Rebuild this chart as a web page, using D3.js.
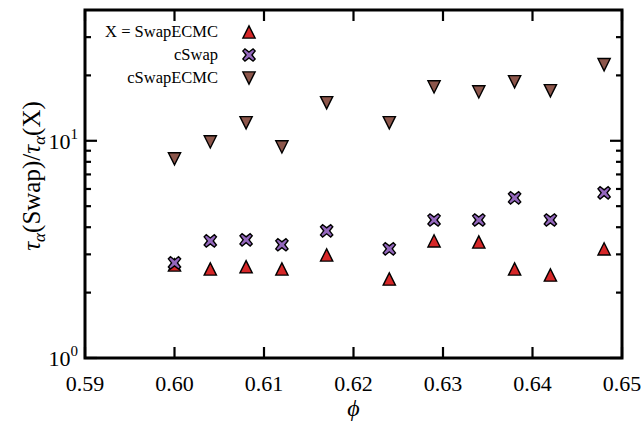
<!DOCTYPE html>
<html><head><meta charset="utf-8">
<script src="https://cdn.jsdelivr.net/npm/d3@7"></script>
<style>
body{margin:0;background:#fff;}
svg{display:block;font-family:"Liberation Serif","DejaVu Serif",serif;}
</style></head>
<body><svg id="c" width="642" height="422"></svg>
<script>
const phi = [0.600,0.604,0.608,0.612,0.617,0.624,0.629,0.634,0.638,0.642,0.648];
const swapECMC = [2.68,2.57,2.63,2.57,2.98,2.31,3.46,3.42,2.57,2.41,3.18];
const cSwap = [2.74,3.46,3.50,3.32,3.85,3.18,4.32,4.32,5.46,4.32,5.76];
const cSwapECMC = [8.26,9.89,12.1,9.38,14.96,12.1,17.7,16.8,18.7,17.0,22.4];
const xTicks = [0.59,0.60,0.61,0.62,0.63,0.64,0.65];
const xTickLabels = ["0.59","0.60","0.61","0.62","0.63","0.64","0.65"];
const yMajor = [1,10];
const yMinor = [2,3,4,5,6,7,8,9,20,30];
const seriesNames = ["X = SwapECMC","cSwap","cSwapECMC"];
const colors = ["#d62728","#9467bd","#8c564b"];

const L=85,R=622,T=10,B=358;
const svg=d3.select("#c");
const x=d3.scaleLinear().domain([0.59,0.65]).range([L,R]);
const y=d3.scaleLog().domain([1,40]).range([B,T]);

const triUp={draw(ctx,size){const r=Math.sqrt(size)/2;ctx.moveTo(0,-r);ctx.lineTo(r,r);ctx.lineTo(-r,r);ctx.closePath();}};
const triDown={draw(ctx,size){const r=Math.sqrt(size)/2;ctx.moveTo(0,r);ctx.lineTo(r,-r);ctx.lineTo(-r,-r);ctx.closePath();}};
const xMark={draw(ctx,size){const r=Math.sqrt(size)/2;const w=r*0.34;
  const pts=[[0,-w*Math.SQRT2],[r-w,-r],[r,-r+w],[w*Math.SQRT2,0],[r,r-w],[r-w,r],[0,w*Math.SQRT2],[-r+w,r],[-r,r-w],[-w*Math.SQRT2,0],[-r,-r+w],[-r+w,-r]];
  ctx.moveTo(pts[0][0],pts[0][1]);for(let i=1;i<pts.length;i++)ctx.lineTo(pts[i][0],pts[i][1]);ctx.closePath();}};
const shapes=[triUp,xMark,triDown];
const sizes=[150,150,150];
const data=[swapECMC,cSwap,cSwapECMC];

const g=svg.append("g");
const tickW=2.2;
xTicks.forEach(v=>{
  g.append("line").attr("x1",x(v)).attr("x2",x(v)).attr("y1",B).attr("y2",B-11).attr("stroke","#000").attr("stroke-width",tickW);
  g.append("line").attr("x1",x(v)).attr("x2",x(v)).attr("y1",T).attr("y2",T+11).attr("stroke","#000").attr("stroke-width",tickW);
});
yMajor.forEach(v=>{
  g.append("line").attr("x1",L).attr("x2",L+12).attr("y1",y(v)).attr("y2",y(v)).attr("stroke","#000").attr("stroke-width",tickW);
  g.append("line").attr("x1",R).attr("x2",R-12).attr("y1",y(v)).attr("y2",y(v)).attr("stroke","#000").attr("stroke-width",tickW);
});
yMinor.forEach(v=>{
  g.append("line").attr("x1",L).attr("x2",L+6).attr("y1",y(v)).attr("y2",y(v)).attr("stroke","#000").attr("stroke-width",tickW);
  g.append("line").attr("x1",R).attr("x2",R-6).attr("y1",y(v)).attr("y2",y(v)).attr("stroke","#000").attr("stroke-width",tickW);
});
svg.append("rect").attr("x",L).attr("y",T).attr("width",R-L).attr("height",B-T).attr("fill","none").attr("stroke","#000").attr("stroke-width",3);

xTicks.forEach((v,i)=>{
  svg.append("text").attr("x",x(v)).attr("y",391).attr("text-anchor","middle").attr("font-size",22).text(xTickLabels[i]);
});
yMajor.forEach(v=>{
  const t=svg.append("text").attr("x",78).attr("y",y(v)+8).attr("text-anchor","end").attr("font-size",22);
  t.append("tspan").text("10");
  t.append("tspan").attr("dy",-10).attr("font-size",15).text(Math.round(Math.log10(v)));
});

svg.append("text").attr("x",(L+R)/2).attr("y",416).attr("text-anchor","middle").attr("font-size",24).attr("font-style","italic").text("ϕ");
const yl=svg.append("text").attr("transform",`translate(40,176) rotate(-90)`).attr("text-anchor","middle").attr("font-size",25);
yl.append("tspan").attr("font-style","italic").text("τ");
yl.append("tspan").attr("font-style","italic").attr("font-size",17).attr("dy",5).text("α");
yl.append("tspan").attr("dy",-5).text("(Swap)/");
yl.append("tspan").attr("font-style","italic").text("τ");
yl.append("tspan").attr("font-style","italic").attr("font-size",17).attr("dy",5).text("α");
yl.append("tspan").attr("dy",-5).text("(X)");

data.forEach((arr,si)=>{
  svg.append("g").selectAll("path").data(arr).join("path")
    .attr("transform",(d,i)=>`translate(${x(phi[i])},${y(d)})`)
    .attr("d",d3.symbol().type(shapes[si]).size(sizes[si]))
    .attr("fill",colors[si]).attr("stroke","#000").attr("stroke-width",1.4);
});

const ly=[32,55,78];
seriesNames.forEach((n,i)=>{
  svg.append("text").attr("x",218).attr("y",ly[i]+5).attr("text-anchor","end").attr("font-size",16.5).text(n);
  svg.append("path").attr("transform",`translate(249,${ly[i]})`).attr("d",d3.symbol().type(shapes[i]).size(sizes[i]))
    .attr("fill",colors[i]).attr("stroke","#000").attr("stroke-width",1.4);
});
</script></body></html>
